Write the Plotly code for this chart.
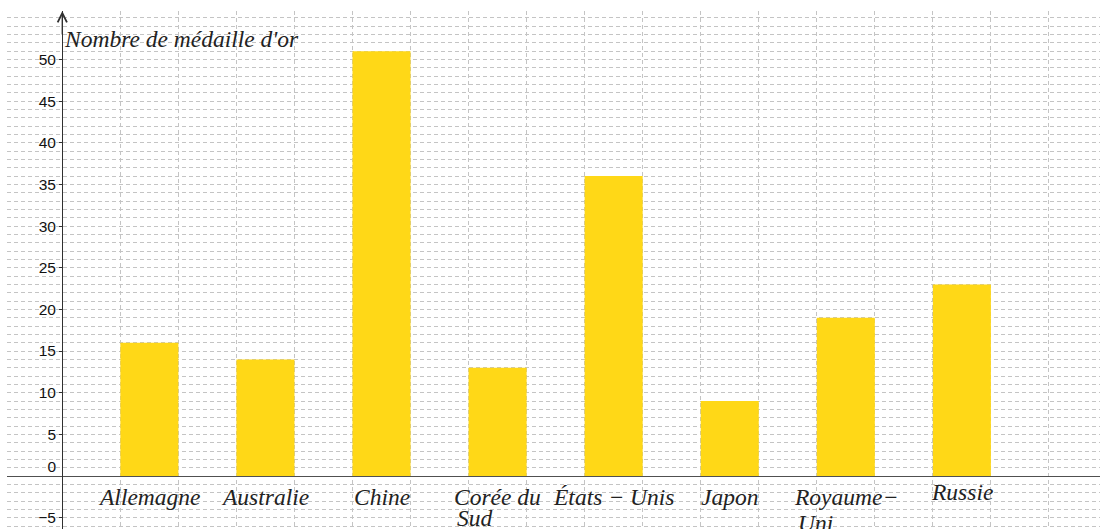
import plotly.graph_objects as go

# ---- data ----
countries = ["Allemagne", "Australie", "Chine", "Corée du<br>Sud", "États − Unis",
             "Japon", "Royaume−<br>Uni", "Russie"]
gold = [16, 14, 51, 13, 36, 9, 19, 23]
y_tick_values = [-5, 5, 10, 15, 20, 25, 30, 35, 40, 45, 50]
y_title = "Nombre de médaille d'or"

# ---- geometry ----
x_range = [-0.953, 17.88]
y_range = [-6.36, 55.82]
xpos = [2 * i + 1.5 for i in range(len(gold))]
label_shift = [0, 0, 0, 0, 0, 0, 0, 5]
second_line_xshift = [0, 0, 0, -43, 0, 0, -50, 0]
second_line_yshift = [0, 0, 0, -27, 0, 0, -32, 0]

grid_color = "#c4c4c4"
grid_dash = "4px,3px"
label_font = dict(family="Liberation Serif", size=23.5, color="#222")
tick_font = dict(family="Liberation Sans", size=15.5, color="#111")

fig = go.Figure()
fig.add_trace(go.Bar(
    x=xpos, y=gold, width=1,
    marker=dict(color="#FFD817", line=dict(width=0)),
    hoverinfo="skip", showlegend=False,
))

ypos_axis = (0 - x_range[0]) / (x_range[1] - x_range[0])
xpos_axis = (0 - y_range[0]) / (y_range[1] - y_range[0])

fig.update_layout(
    width=1100, height=529,
    margin=dict(l=7, r=0, t=11, b=0),
    paper_bgcolor="white", plot_bgcolor="white",
    xaxis=dict(
        range=x_range, anchor="free", position=xpos_axis,
        tickmode="linear", tick0=0, dtick=1,
        showgrid=True, gridcolor=grid_color, griddash=grid_dash, gridwidth=1,
        showticklabels=False, ticks="",
        showline=True, linecolor="#505050", linewidth=1.4,
        zeroline=False,
    ),
    yaxis=dict(
        range=y_range, anchor="free", position=ypos_axis,
        tickmode="array", tickvals=y_tick_values,
        showgrid=True, gridcolor=grid_color, griddash=grid_dash, gridwidth=1,
        minor=dict(tickmode="linear", tick0=0, dtick=1, showgrid=True,
                   gridcolor=grid_color, griddash=grid_dash, gridwidth=1),
        ticks="outside", ticklen=3, tickcolor="#333", tickwidth=1,
        tickfont=tick_font,
        showline=True, linecolor="#303030", linewidth=1.4,
        zeroline=False,
    ),
    yaxis2=dict(
        range=y_range, overlaying="y", anchor="free", position=ypos_axis,
        tickmode="array", tickvals=[0], ticktext=["0"],
        showgrid=False, showline=False, zeroline=False,
        ticks="outside", ticklen=3, tickcolor="rgba(0,0,0,0)",
        ticklabelshift=-9,
        tickfont=tick_font,
    ),
)

# invisible trace to activate yaxis2
fig.add_trace(go.Scatter(x=[None], y=[None], yaxis="y2", showlegend=False, hoverinfo="skip"))

annotations = []
for i, name in enumerate(countries):
    lines = name.split("<br>")
    annotations.append(dict(
        x=xpos[i], y=0, xref="x", yref="y",
        text="<i>" + lines[0] + "</i>", showarrow=False,
        xanchor="center", yanchor="top",
        yshift=-6 + label_shift[i],
        font=label_font,
    ))
    if len(lines) > 1:
        annotations.append(dict(
            x=xpos[i], y=0, xref="x", yref="y",
            text="<i>" + lines[1] + "</i>", showarrow=False,
            xanchor="left", yanchor="top",
            xshift=second_line_xshift[i],
            yshift=second_line_yshift[i] + label_shift[i],
            font=label_font,
        ))
annotations.append(dict(
    x=0, y=1, xref="x", yref="paper", text="<i>" + y_title + "</i>",
    showarrow=False, xanchor="left", yanchor="top", xshift=0, yshift=-13,
    font=label_font,
))
# arrow head on the y axis
annotations.append(dict(
    x=0, y=1, xref="x", yref="paper", ax=0, ay=25, axref="pixel", ayref="pixel",
    showarrow=True, arrowhead=5, arrowsize=1.3, arrowwidth=1.4, arrowcolor="#303030",
    text="",
))
fig.update_layout(annotations=annotations)

fig.write_html("out.html", config={"displayModeBar": False},
               post_script="document.body.style.margin='0';document.body.style.overflow='hidden';")
